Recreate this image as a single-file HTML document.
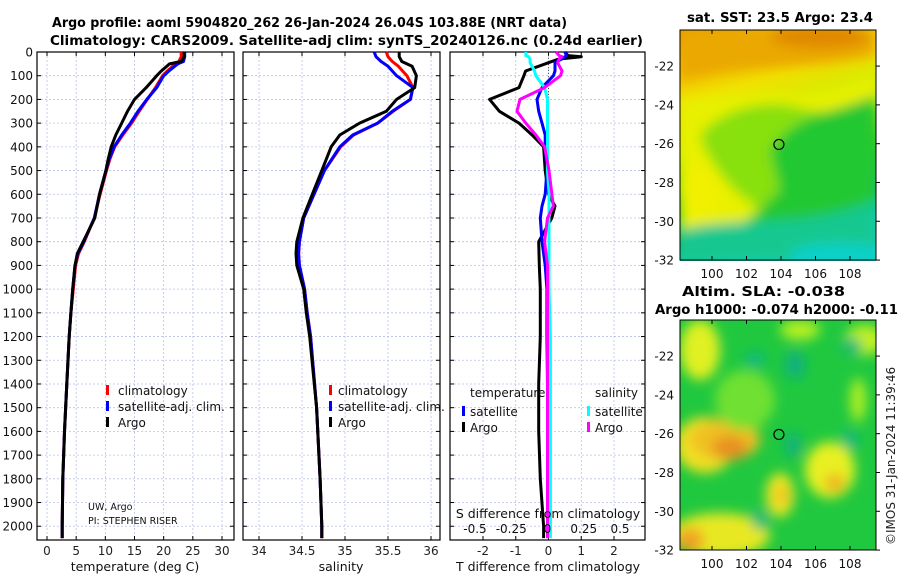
<!DOCTYPE html>
<html><head><meta charset="utf-8"><style>
body{margin:0;background:#fff;}
svg{display:block;font-family:"DejaVu Sans","Liberation Sans",sans-serif;}
</style></head><body>
<svg id="c" width="900" height="580" viewBox="0 0 900 580" xmlns="http://www.w3.org/2000/svg">
<defs>
<filter id="bl" x="-50%" y="-50%" width="200%" height="200%"><feGaussianBlur stdDeviation="6"/></filter>
<clipPath id="m1"><rect x="680" y="30" width="196" height="231"/></clipPath>
<clipPath id="m2"><rect x="680" y="320" width="196" height="230"/></clipPath>
<linearGradient id="sstg" x1="0" y1="0" x2="0.25" y2="1">
<stop offset="0" stop-color="#e89a00"/><stop offset="0.15" stop-color="#f2b800"/><stop offset="0.3" stop-color="#f0e000"/>
<stop offset="0.5" stop-color="#c8f000"/><stop offset="0.7" stop-color="#30cc20"/><stop offset="0.88" stop-color="#10c070"/><stop offset="1" stop-color="#10d0c0"/></linearGradient>
</defs>
<g font-weight="bold" font-size="13" fill="#000">
<text x="52" y="27" textLength="515" lengthAdjust="spacingAndGlyphs">Argo profile: aoml 5904820_262 26-Jan-2024 26.04S 103.88E (NRT data)</text>
<text x="50" y="45" textLength="593" lengthAdjust="spacingAndGlyphs">Climatology: CARS2009. Satellite-adj clim: synTS_20240126.nc (0.24d earlier)</text>
<text x="687" y="22" textLength="186" lengthAdjust="spacingAndGlyphs">sat. SST: 23.5 Argo: 23.4</text>
<text x="682" y="296" textLength="163" lengthAdjust="spacingAndGlyphs">Altim. SLA: -0.038</text>
<text x="655" y="314" textLength="243" lengthAdjust="spacingAndGlyphs">Argo h1000: -0.074 h2000: -0.11</text>
</g>
<text x="0" y="0" font-size="12" fill="#222" transform="translate(895,545) rotate(-90)">©IMOS 31-Jan-2024 11:39:46</text>
<g id="plots"></g>
</svg>
<script>
// ---- data ----
const depthT=[0,20,40,50,80,100,150,200,250,300,350,400,450,500,600,700,800,850,900,1000,1100,1200,1400,1600,1800,2000,2050];
const tempArgo=[23.5,23.5,23,21,19.6,18.8,17,15,13.8,12.8,11.8,11,10.5,10.1,9,8.2,6.2,5.2,4.8,4.4,4.1,3.8,3.4,3.0,2.7,2.6,2.6];
const tempClim=[23.0,23.0,22.6,22.0,20.6,19.8,18.6,17.2,15.8,14.5,13,11.6,10.8,10.2,9.1,8.1,6.4,5.4,4.9,4.5,4.1,3.8,3.4,3.0,2.7,2.6,2.6];
const tempSat=[23.6,23.6,23.4,22.4,20.9,20.0,18.8,17.1,15.6,14.3,12.8,11.5,10.7,10.1,9.0,8.1,6.3,5.3,4.8,4.4,4.1,3.8,3.4,3.0,2.7,2.6,2.6];
const depthS=[0,20,40,60,100,150,200,250,300,350,400,500,600,700,800,850,900,1000,1100,1200,1500,1800,2000,2050];
const salArgo=[35.63,35.63,35.66,35.78,35.83,35.81,35.6,35.48,35.17,34.94,34.84,34.73,34.62,34.51,34.44,34.43,34.44,34.52,34.55,34.59,34.67,34.71,34.73,34.73];
const salClim=[35.48,35.5,35.55,35.62,35.72,35.79,35.76,35.56,35.38,35.1,34.95,34.76,34.64,34.52,34.47,34.46,34.47,34.53,34.56,34.6,34.67,34.71,34.73,34.73];
const salSat=[35.34,35.36,35.42,35.5,35.6,35.79,35.76,35.55,35.38,35.09,34.94,34.76,34.64,34.52,34.47,34.46,34.47,34.53,34.56,34.6,34.67,34.71,34.73,34.73];
const depthD=[0,15,20,30,45,80,100,150,200,250,300,350,400,500,600,650,700,800,900,1000,1200,1400,1600,1800,2000,2050];
const dTArgo=[0.5,0.6,1.0,0.3,0.0,-0.7,-0.75,-0.9,-1.8,-1.5,-0.9,-0.5,-0.15,-0.1,0.0,0.2,0.1,-0.3,-0.28,-0.25,-0.25,-0.3,-0.3,-0.25,-0.15,-0.15];
const dTSat=[0.5,0.55,0.5,0.4,0.2,0.2,0.15,-0.2,-0.35,-0.3,-0.2,-0.1,-0.1,-0.05,-0.1,-0.2,-0.25,-0.2,-0.1,-0.05,-0.05,-0.03,-0.03,-0.02,-0.02,-0.02];
const dSSat=[-0.15,-0.15,-0.13,-0.12,-0.12,-0.09,-0.08,-0.02,0,0,0,0,0,0,0.01,0.01,0.01,0.01,0.01,0.01,0.02,0.02,0.02,0.02,0.02,0.02];
const dSArgo=[0.06,0.08,0.1,0.08,0.07,0.1,0.09,-0.02,-0.19,-0.21,-0.15,-0.08,-0.02,0.01,0.03,0.04,0.0,-0.02,0.0,0.0,0.0,0.0,0.0,0.0,0.0,0.0];
const depthTicks=[0,100,200,300,400,500,600,700,800,900,1000,1100,1200,1300,1400,1500,1600,1700,1800,1900,2000];
const tTicks=[0,5,10,15,20,25,30];
const sTicks=[34,34.5,35,35.5,36];
const sTickLabels=["34","34.5","35","35.5","36"];
const dTTicks=[-2,-1,0,1,2];
const dSTicks=[-0.5,-0.25,0,0.25,0.5];
const dSTickLabels=["-0.5","-0.25","0","0.25","0.5"];
const latTicks=[-22,-24,-26,-28,-30,-32];
const lonTicks=[100,102,104,106,108];
const argoLon=103.88, argoLat=-26.04;

const NS="http://www.w3.org/2000/svg";
const G=document.getElementById('plots');
function mk(t,a,p){const e=document.createElementNS(NS,t);for(const k in a)e.setAttribute(k,a[k]);(p||G).appendChild(e);return e;}
const pTop=52,pBot=540;
const yD=d=>pTop+d*(pBot-pTop)/2058;
function lin(d0,d1,p0,p1){return v=>p0+(v-d0)*(p1-p0)/(d1-d0);}
function panel(name,x0,x1,xs,ticks,labels,gridTicks){
  const box=mk('g',{});
  
  
  gridTicks.forEach(v=>{const g=mk('line',{x1:xs(v),x2:xs(v),y1:pTop,y2:pBot,stroke:'#b8c0e8','stroke-width':0.8,'stroke-dasharray':'2,2'},box);});
  depthTicks.forEach(d=>{if(d==0)return;const g=mk('line',{x1:x0,x2:x1,y1:yD(d),y2:yD(d),stroke:'#b8c0e8','stroke-width':0.8,'stroke-dasharray':'2,2'},box);
    mk('line',{x1:x0,x2:x0+4,y1:yD(d),y2:yD(d),stroke:'#000'},box);mk('line',{x1:x1-4,x2:x1,y1:yD(d),y2:yD(d),stroke:'#000'},box);});
  ticks.forEach((v,i)=>{mk('line',{x1:xs(v),x2:xs(v),y1:pBot-4,y2:pBot,stroke:'#000'},box);mk('line',{x1:xs(v),x2:xs(v),y1:pTop,y2:pTop+4,stroke:'#000'},box);
    if(labels){const t=mk('text',{x:xs(v),y:pBot+15,'font-size':12,'text-anchor':'middle',fill:'#222'},box);t.textContent=labels[i];}});
  const r=mk('rect',{x:x0,y:pTop,width:x1-x0,height:pBot-pTop,fill:'none',stroke:'#000','stroke-width':1.2},box);
  
  return box;
}
function line(name,xs,vals,depths,color,w,p){
  const d=vals.map((v,i)=>(i?'L':'M')+xs(v).toFixed(1)+','+yD(depths[i]).toFixed(1)).join('');
  const e=mk('path',{d:d,fill:'none',stroke:color,'stroke-width':w||3,'stroke-linejoin':'round'},p);
  
  
}
function txt(s,x,y,sz,anchor,name,p){const t=mk('text',{x:x,y:y,'font-size':sz,'text-anchor':anchor||'start',fill:'#111'},p);t.textContent=s;return t;}

depthTicks.forEach(d=>{txt(String(d),33,yD(d)+4.5,12,'end','depth-tick-label');});

// Panel 1 temperature
const xT=lin(0,30,47,222);
const p1=panel('temperature-panel',37,234,xT,tTicks,tTicks.map(String),tTicks);
line('temp-climatology-line',xT,tempClim,depthT,'#f00',3,p1);
line('temp-satellite-line',xT,tempSat,depthT,'#00f',3,p1);
line('temp-argo-line',xT,tempArgo,depthT,'#000',3,p1);
txt('temperature (deg C)',135,571,12.5,'middle','temperature-axis-title');
txt('UW, Argo',88,510,9.5,'start','institution-label',p1);
txt('PI: STEPHEN RISER',88,524,9.5,'start','pi-label',p1);
[['climatology','#f00'],['satellite-adj. clim.','#00f'],['Argo','#000']].forEach((e,i)=>{
  const y=392+i*16;const r=mk('rect',{x:106,y:y-7,width:3,height:10,fill:e[1]},p1);
  txt(e[0],118,y+3,12,'start','legend-entry',p1);});

// Panel 2 salinity
const xS=lin(34,36,259,431);
const p2=panel('salinity-panel',243,440,xS,sTicks,sTickLabels,sTicks);
line('sal-climatology-line',xS,salClim,depthS,'#f00',3,p2);
line('sal-satellite-line',xS,salSat,depthS,'#00f',3,p2);
line('sal-argo-line',xS,salArgo,depthS,'#000',3,p2);
txt('salinity',341,571,12.5,'middle','salinity-axis-title');
[['climatology','#f00'],['satellite-adj. clim.','#00f'],['Argo','#000']].forEach((e,i)=>{
  const y=392+i*16;const r=mk('rect',{x:329,y:y-7,width:3,height:10,fill:e[1]},p2);
  txt(e[0],338,y+3,12,'start','legend-entry',p2);});

// Panel 3 differences
const xdT=lin(-2,2,483,614);
const xdS=lin(-0.5,0.5,475,620);
const p3=panel('difference-panel',450,645,xdT,dTTicks,dTTicks.map(String),dTTicks);
mk('line',{x1:xdT(0),x2:xdT(0),y1:pTop,y2:pBot,stroke:'#333','stroke-width':0.8,'stroke-dasharray':'1,2'},p3);
line('dT-argo-line',xdT,dTArgo,depthD,'#000',3,p3);
line('dT-satellite-line',xdT,dTSat,depthD,'#00f',3,p3);
line('dS-satellite-line',xdS,dSSat,depthD,'#0ff',3,p3);
line('dS-argo-line',xdS,dSArgo,depthD,'#f0f',3,p3);
dSTicks.forEach((v,i)=>txt(dSTickLabels[i],xdS(v),533,12,'middle','s-diff-tick-label',p3));
txt('S difference from climatology',548,518,12.5,'middle','s-diff-axis-title',p3);
txt('T difference from climatology',548,571,12.5,'middle','t-diff-axis-title');
txt('temperature',470,397,12,'start','legend-heading',p3);
txt('salinity',595,397,12,'start','legend-heading',p3);
[['satellite','#00f',462],['Argo','#000',462],['satellite','#0ff',587],['Argo','#f0f',587]].forEach((e,i)=>{
  const y=413+(i%2)*16;const r=mk('rect',{x:e[2],y:y-7,width:3,height:10,fill:e[1]},p3);
  txt(e[0],e[2]+8,y+3,12,'start','legend-entry',p3);});

// Maps
function map(name,y0,clip,fillFn){
  const g=mk('g',{'clip-path':'url(#'+clip+')'});
  
  fillFn(g);
  const lx=lin(100,108,712,850), ly=v=>y0+(-20.14-v)*19.4;
  const c=mk('circle',{cx:lx(argoLon),cy:ly(argoLat),r:5,fill:'none',stroke:'#000','stroke-width':1.2});
  
  const f=mk('rect',{x:680,y:y0,width:196,height:230,fill:'none',stroke:'#000','stroke-width':1});
  
  latTicks.forEach(v=>{mk('line',{x1:876,x2:880,y1:ly(v),y2:ly(v),stroke:'#000'});txt(String(v),674,ly(v)+4.5,12,'end','lat-tick-label');});
  lonTicks.forEach(v=>{mk('line',{x1:lx(v),x2:lx(v),y1:y0+226,y2:y0+230,stroke:'#000'});mk('line',{x1:lx(v),x2:lx(v),y1:y0,y2:y0+4,stroke:'#000'});txt(String(v),lx(v),y0+248,12,'middle','lon-tick-label');});
}
map('sst-map',30,'m1',g=>{
  mk('rect',{x:680,y:30,width:196,height:231,fill:'url(#sstg)'},g);
  const b=mk('g',{filter:'url(#bl)'},g);
  mk('path',{d:'M680,100 C720,95 760,90 800,95 C830,95 850,85 876,75 L876,261 L680,261 Z',fill:'#e8f000'},b);
  mk('path',{d:'M700,135 C720,110 760,100 790,105 C810,110 830,120 876,95 L876,220 C840,200 800,205 770,215 C740,200 710,170 700,135 Z',fill:'#88e010'},b);
  mk('path',{d:'M770,150 C800,110 830,115 876,95 L876,261 L690,261 C720,240 750,220 780,190 Z',fill:'#20c830'},b);
  mk('path',{d:'M680,30 L876,30 L876,55 C820,70 760,62 680,80 Z',fill:'#eaa800'},b);
  mk('ellipse',{cx:820,cy:36,rx:50,ry:12,fill:'#e08800'},b);
  mk('ellipse',{cx:700,cy:190,rx:22,ry:30,fill:'#f0f000'},b);
  mk('path',{d:'M680,230 C740,215 800,230 876,200 L876,261 L680,261 Z',fill:'#18c890'},b);
  mk('ellipse',{cx:840,cy:255,rx:50,ry:12,fill:'#10d0c8'},b);
});
map('sla-map',320,'m2',g=>{
  mk('rect',{x:680,y:320,width:196,height:230,fill:'#20c840'},g);
  const b=mk('g',{filter:'url(#bl)'},g);
  [[700,350,20,30,'#e0f020'],[705,445,30,28,'#f0e020'],[725,440,35,20,'#f0c020'],[730,448,18,12,'#e89020'],[780,495,14,22,'#f0e820'],[782,495,7,10,'#f0c020'],[830,470,25,28,'#e8f020'],[835,483,10,9,'#f0b020'],[720,535,50,22,'#e8e820'],[690,540,14,12,'#f0a020'],[865,340,20,15,'#c0f020'],[800,330,20,10,'#b8f020'],[858,400,8,22,'#b0f020'],[745,400,30,30,'#70e030']].forEach(a=>mk('ellipse',{cx:a[0],cy:a[1],rx:a[2],ry:a[3],fill:a[4]},b));
  [[795,365,10,14,'#10b080'],[793,445,8,12,'#10b080'],[755,360,10,8,'#10b880'],[852,346,10,8,'#10b880'],[850,440,8,10,'#10b880'],[760,520,8,10,'#10b880']].forEach(a=>mk('ellipse',{cx:a[0],cy:a[1],rx:a[2],ry:a[3],fill:a[4]},b));
});
</script>
</body></html>
